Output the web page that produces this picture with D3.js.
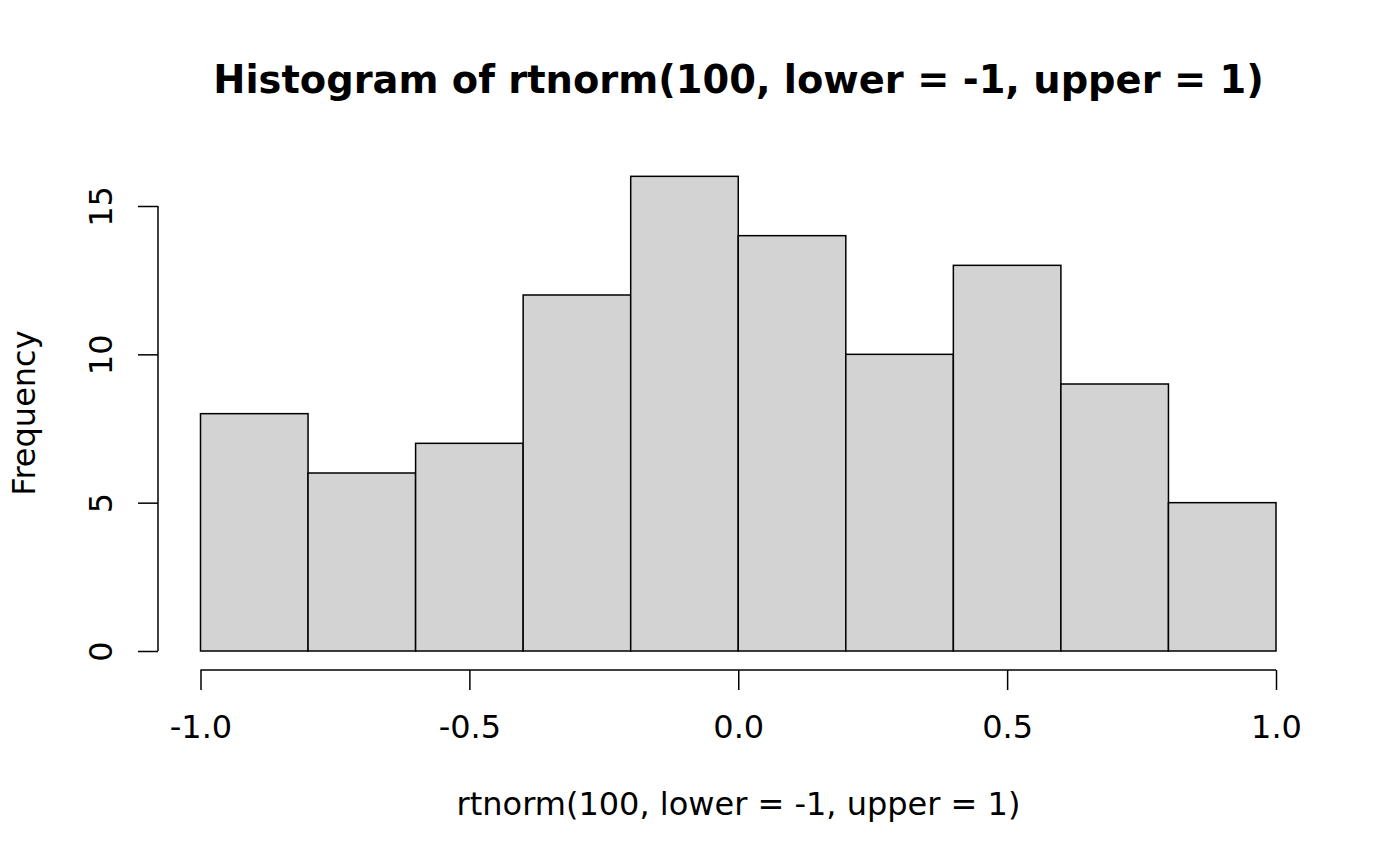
<!DOCTYPE html>
<html>
<head>
<meta charset="utf-8">
<script src="https://cdn.jsdelivr.net/npm/d3@7"></script>
<style>
  html, body { margin: 0; padding: 0; background: #fff; }
  svg { display: block; }
  text { font-family: "DejaVu Sans", sans-serif; fill: #000; }
</style>
</head>
<body>
<svg id="chart" width="1400" height="866"></svg>
<script>
const breaks = [-1.0, -0.8, -0.6, -0.4, -0.2, 0.0, 0.2, 0.4, 0.6, 0.8, 1.0];
const counts = [8, 6, 7, 12, 16, 14, 10, 13, 9, 5];
const xTicks = [-1.0, -0.5, 0.0, 0.5, 1.0];
const xTickLabels = ["-1.0", "-0.5", "0.0", "0.5", "1.0"];
const yTicks = [0, 5, 10, 15];
const titleText = "Histogram of rtnorm(100, lower = -1, upper = 1)";
const xLabel = "rtnorm(100, lower = -1, upper = 1)";
const yLabel = "Frequency";

const svg = d3.select("#chart");
const x = d3.scaleLinear().domain([-1, 1]).range([200.5, 1276]);
const y = d3.scaleLinear().domain([0, 15]).range([651, 206]);

const bins = counts.map((c, i) => ({x0: breaks[i], x1: breaks[i + 1], n: c}));

svg.append("g").selectAll("rect").data(bins).join("rect")
  .attr("x", d => x(d.x0))
  .attr("y", d => y(d.n))
  .attr("width", d => x(d.x1) - x(d.x0))
  .attr("height", d => y(0) - y(d.n))
  .attr("fill", "#d3d3d3")
  .attr("stroke", "#000")
  .attr("stroke-width", 1.5);

// x axis
const xAxis = d3.axisBottom(x).tickValues(xTicks)
  .tickFormat((d, i) => xTickLabels[i]).tickSize(20).tickPadding(20);
const gx = svg.append("g").attr("transform", "translate(0,670)").call(xAxis);
gx.select(".domain").attr("d", `M${x(-1)},0H${x(1)}`).attr("stroke-width", 1.5);
gx.selectAll(".tick line").attr("stroke-width", 1.5);
gx.selectAll(".tick text").attr("font-size", 32).attr("font-family", "DejaVu Sans")
  .attr("y", 68).attr("dy", null);

// y axis
const yAxis = d3.axisLeft(y).tickValues(yTicks).tickSize(20).tickPadding(0);
const gy = svg.append("g").attr("transform", "translate(158,0)").call(yAxis);
gy.select(".domain").attr("d", `M0,${y(0)}V${y(15)}`).attr("stroke-width", 1.5);
gy.selectAll(".tick line").attr("stroke-width", 1.5);
gy.selectAll(".tick text")
  .attr("font-size", 32).attr("font-family", "DejaVu Sans")
  .attr("x", null).attr("dy", null)
  .attr("text-anchor", "middle")
  .attr("transform", "translate(-46,0) rotate(-90)");

// title
svg.append("text").attr("x", 738.5).attr("y", 93)
  .attr("text-anchor", "middle").attr("font-weight", "bold").attr("font-size", 38.4)
  .text(titleText);

// x label
svg.append("text").attr("x", 738.5).attr("y", 815)
  .attr("text-anchor", "middle").attr("font-size", 32)
  .text(xLabel);

// y label
svg.append("text").attr("transform", "translate(35,413) rotate(-90)")
  .attr("text-anchor", "middle").attr("font-size", 32)
  .text(yLabel);
</script>
</body>
</html>
